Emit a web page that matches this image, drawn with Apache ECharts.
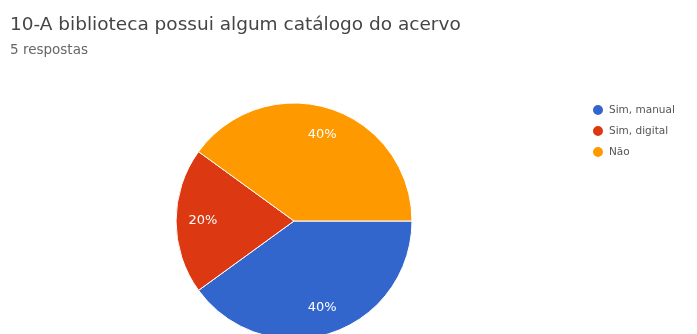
<!DOCTYPE html>
<html>
<head>
<meta charset="utf-8">
<script src="https://cdn.jsdelivr.net/npm/echarts@6/dist/echarts.min.js"></script>
<style>
  html, body { margin: 0; padding: 0; background: #fff; }
  #chart { width: 697px; height: 334px; }
</style>
</head>
<body>
<div id="chart"></div>
<script>
// Survey answers: "Does the library have a catalogue of its collection?"
const titleText = '10-A biblioteca possui algum catálogo do acervo';
const subtitleText = '5 respostas';
const categories = ['Sim, manual', 'Sim, digital', 'Não'];
const responses = [2, 1, 2];
const sliceColors = ['#3366cc', '#dc3912', '#ff9900'];

const chart = echarts.init(document.getElementById('chart'), null, { renderer: 'canvas' });

const pieData = categories.map((name, i) => ({
  name,
  value: responses[i],
  itemStyle: { color: sliceColors[i] }
}));

const total = responses.reduce((a, b) => a + b, 0);
const center = [294, 221];
const font = '"DejaVu Sans", Verdana, sans-serif';

chart.setOption({
  animation: false,
  textStyle: { fontFamily: font },
  title: {
    text: titleText,
    subtext: subtitleText,
    left: 10,
    top: 16,
    padding: 0,
    itemGap: 8,
    textStyle: { fontFamily: font, fontSize: 18.5, fontWeight: 'normal', color: '#454545' },
    subtextStyle: { fontFamily: font, fontSize: 13.5, color: '#666' }
  },
  legend: {
    orient: 'vertical',
    left: 591,
    top: 103,
    padding: 0,
    icon: 'circle',
    itemWidth: 12,
    itemHeight: 12,
    itemGap: 7,
    data: categories,
    textStyle: { fontFamily: font, fontSize: 10.5, color: '#555', padding: [0, 0, 0, 0] }
  },
  series: [
    {
      type: 'pie',
      center,
      radius: 118,
      startAngle: 0,
      clockwise: true,
      data: pieData,
      label: { show: false },
      labelLine: { show: false },
      itemStyle: { borderColor: '#fff', borderWidth: 1 },
      emphasis: { disabled: true }
    },
    {
      // transparent ring used only to place the percentage labels further out
      type: 'pie',
      center,
      radius: [58, 118],
      startAngle: 0,
      clockwise: true,
      silent: true,
      legendHoverLink: false,
      data: categories.map((name, i) => ({ name, value: responses[i] })),
      itemStyle: { color: 'rgba(0,0,0,0)' },
      label: {
        show: true,
        position: 'inside',
        color: '#fff',
        fontFamily: font,
        fontSize: 13,
        formatter: p => Math.round(p.value / total * 100) + '%'
      },
      labelLine: { show: false },
      emphasis: { disabled: true }
    }
  ]
});
</script>
</body>
</html>
